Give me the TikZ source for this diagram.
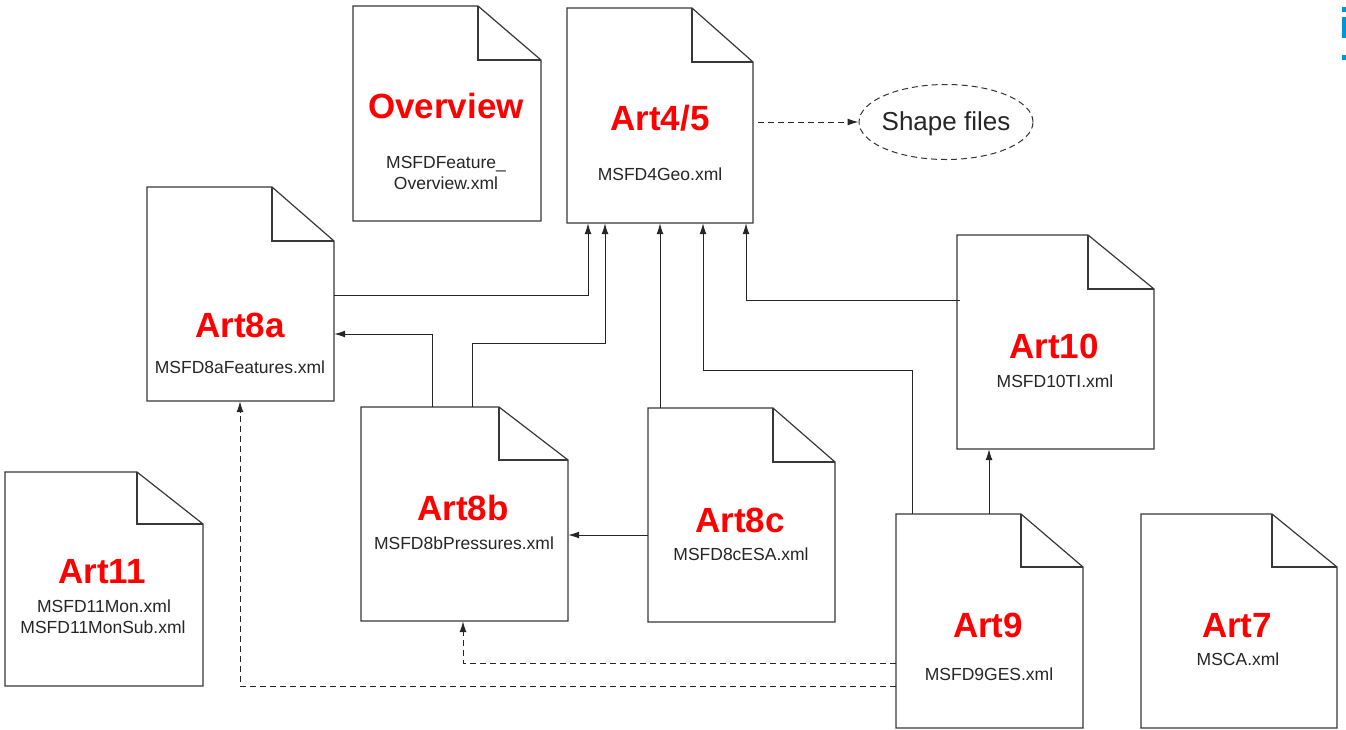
\documentclass[tikz,border=0pt]{standalone}
\usepackage{fontspec}
\setmainfont{Liberation Sans}
\usetikzlibrary{arrows.meta,shapes.geometric,fit}
\definecolor{linec}{HTML}{383838}
\definecolor{logoblue}{HTML}{0096D6}
\tikzset{
  docline/.style={line width=1.2pt, draw=linec, fill=white, line join=miter},
  conn/.style={line width=1pt, draw=black!85, -{Latex[length=11pt,width=7pt]}},
  dconn/.style={conn, dash pattern=on 6pt off 4pt},
  ttl/.style={anchor=base, text=red, font=\bfseries\fontsize{35}{40}\selectfont, inner sep=0pt},
  fname/.style={anchor=base, text=black!85, font=\fontsize{17.5}{21}\selectfont, inner sep=0pt},
}
\newcommand\docfile[7]{%
  \draw[docline] (#2,#3) -- (#6,#3) -- (#4,#7) -- (#4,#5) -- (#2,#5) -- cycle;
  \draw[docline, fill=none] (#6,#3) -- (#6,#7) -- (#4,#7);
  \node[fit={(#2,#3)(#4,#5)}, inner sep=0pt] (#1) {};
}
\begin{document}
\begin{tikzpicture}[x=1pt,y=-1pt]
\useasboundingbox (0,0) rectangle (1346,729);
% documents
\docfile{ovw}{353}{6}{541}{221}{478}{60}
\docfile{art45}{567}{8}{753}{223}{692}{62}
\docfile{art8a}{147}{187}{334}{401}{272}{241}
\docfile{art8b}{361}{407}{568}{621}{499}{460}
\docfile{art8c}{648}{408}{835}{622}{773}{462}
\docfile{art11}{5}{472}{203}{686}{137}{524}
\docfile{art10}{957}{235}{1154}{449}{1088}{289}
\docfile{art9}{896}{514}{1083}{728}{1021}{567}
\docfile{art7}{1141}{514}{1337}{728}{1272}{567}
% shape files
\node[ellipse, draw=black!80, line width=1pt, dash pattern=on 6pt off 4pt, minimum width=174pt, minimum height=75pt, inner sep=0pt] (shp) at (946,122) {};
\node[anchor=base, font=\fontsize{26}{30}\selectfont, text=black!85, inner sep=0pt] (shpt) at (946,130) {Shape files};
% texts
\node[ttl] (tovw) at (446,118) {Overview};
\node[fname] (fovw1) at (446,168) {MSFDFeature\_};
\node[fname] (fovw2) at (446,189) {Overview.xml};
\node[ttl] (t45) at (660,130) {Art4/5};
\node[fname] (f45) at (660,180) {MSFD4Geo.xml};
\node[ttl] (t8a) at (240,337) {Art8a};
\node[fname] (f8a) at (240,373) {MSFD8aFeatures.xml};
\node[ttl] (t8b) at (463,520) {Art8b};
\node[fname] (f8b) at (464,549) {MSFD8bPressures.xml};
\node[ttl] (t8c) at (740,532) {Art8c};
\node[fname] (f8c) at (741,560) {MSFD8cESA.xml};
\node[ttl] (t11) at (102,583) {Art11};
\node[fname] (f11a) at (104,612) {MSFD11Mon.xml};
\node[fname] (f11b) at (103,633) {MSFD11MonSub.xml};
\node[ttl] (t10) at (1054,358) {Art10};
\node[fname] (f10) at (1055,387) {MSFD10TI.xml};
\node[ttl] (t9) at (988,637) {Art9};
\node[fname] (f9) at (989,680) {MSFD9GES.xml};
\node[ttl] (t7) at (1237,637) {Art7};
\node[fname] (f7) at (1238,665) {MSCA.xml};
% connectors
\draw[conn] (art8a.east |- 0,295) -| (art45.south -| 588,0);
\draw[conn] (art8b.north -| 432,0) |- (art8a.east |- 0,334);
\draw[conn] (art8b.north -| 472,0) |- (605,343) -- (art45.south -| 605,0);
\draw[conn] (art8c.north -| 660,0) -- (art45.south -| 660,0);
\draw[conn] (art8c.west |- 0,535) -- (art8b.east |- 0,535);
\draw[conn] (art9.north -| 912,0) |- (703,370) -- (art45.south -| 703,0);
\draw[conn] (art9.north -| 989,0) -- (art10.south -| 989,0);
\draw[conn] (960,300) -| (art45.south -| 746,0);
\draw[dconn] (art9.west |- 0,663) -| (art8b.south -| 463,0);
\draw[dconn] (art9.west |- 0,686) -| (art8a.south -| 240,0);
\draw[dconn] (758,122) -- (shp.west);
% logo fragment
\fill[logoblue] (1342,7) rectangle (1346,12);
\fill[logoblue] (1342,17) rectangle (1346,38);
\fill[logoblue] (1342,55) rectangle (1346,60);
\end{tikzpicture}
\end{document}
